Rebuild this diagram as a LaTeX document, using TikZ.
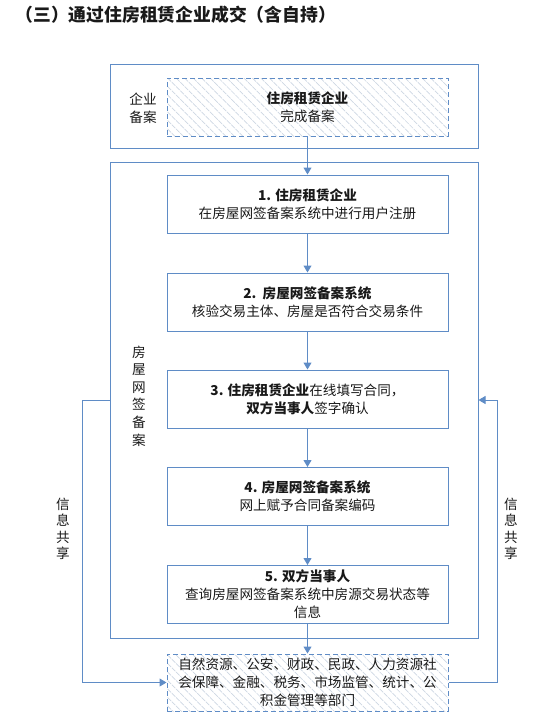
\documentclass[tikz,border=0pt]{standalone}
\usepackage{fontspec}
\setmainfont{Noto Sans CJK SC}
\usetikzlibrary{arrows.meta,patterns.meta}
\definecolor{lnblue}{RGB}{95,140,198}
\definecolor{hatchgray}{RGB}{205,214,226}
\definecolor{txt}{RGB}{25,25,25}

\begin{document}
\begin{tikzpicture}[x=1pt,y=-1pt,font=\fontsize{13.6}{18}\selectfont,text=txt]
\tikzset{
  OB/.style={draw=lnblue,line width=1pt,rectangle,minimum width=368pt,inner sep=0pt},
  SB/.style={draw=lnblue,line width=1pt,fill=white,rectangle,minimum width=281pt,minimum height=58pt,align=center,inner sep=2pt},
  HB/.style={draw=lnblue,line width=1pt,dash pattern=on 5pt off 3pt,rectangle,minimum width=281pt,minimum height=58pt,align=center,inner sep=2pt,
    pattern={Lines[angle=-45,distance=6pt,line width=0.7pt]},pattern color=hatchgray},
  FL/.style={-{Triangle[width=8pt,length=7pt]},line width=1pt,lnblue},
  SL/.style={align=center,inner sep=0pt},
}
\useasboundingbox (0,0) rectangle (538,725);

\node[anchor=west,font=\fontsize{17.8}{20}\selectfont\bfseries](ttl) at (12,15){（三）通过住房租赁企业成交（含自持）};

\node[OB,minimum height=83pt](qybox) at (294,106.5){};
\node[SL](qylab) at (143,108){企业\\备案};
\node[HB](qyba) at (307.5,107){\textbf{住房租赁企业}\\完成备案};

\node[OB,minimum height=476pt](wqbox) at (294,400){};
\node[SL,font=\fontsize{13.6}{17.6}\selectfont](wqlab) at (139,396){房\\屋\\网\\签\\备\\案};

\node[SB](s1) at (307.5,204){\textbf{1. 住房租赁企业}\\在房屋网签备案系统中进行用户注册};
\node[SB](s2) at (307.5,302){\textbf{2.\ \ 房屋网签备案系统}\\核验交易主体、房屋是否符合交易条件};
\node[SB](s3) at (307.5,399){\textbf{3. 住房租赁企业}在线填写合同，\\\textbf{双方当事人}签字确认};
\node[SB](s4) at (307.5,496.5){\textbf{4. 房屋网签备案系统}\\网上赋予合同备案编码};
\node[SB](s5) at (307.5,594.5){\textbf{5. 双方当事人}\\查询房屋网签备案系统中房源交易状态等\\信息};

\node[HB,minimum height=57pt](bm) at (307.5,682.5){自然资源、公安、财政、民政、人力资源社\\会保障、金融、税务、市场监管、统计、公\\积金管理等部门};

\node[SL,font=\fontsize{13.6}{16.5}\selectfont](xxl) at (63,529){信\\息\\共\\享};
\node[SL,font=\fontsize{13.6}{16.5}\selectfont](xxr) at (511,529){信\\息\\共\\享};

\draw[FL](qyba.south)--(s1.north);
\draw[FL](s1.south)--(s2.north);
\draw[FL](s2.south)--(s3.north);
\draw[FL](s3.south)--(s4.north);
\draw[FL](s4.south)--(s5.north);
\draw[FL](s5.south)--(bm.north);

\draw[FL](wqbox.west)--++(-27,0)|-(bm.west);
\draw[FL](bm.east)--++(49,0)|-(wqbox.east);

\end{tikzpicture}
\end{document}
